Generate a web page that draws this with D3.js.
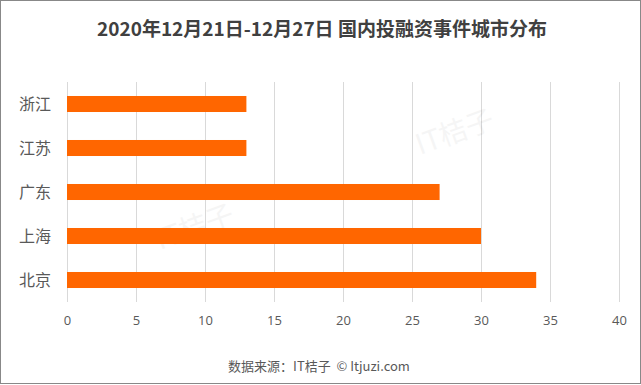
<!DOCTYPE html>
<html>
<head>
<meta charset="utf-8">
<script src="https://cdn.jsdelivr.net/npm/d3@7"></script>
<style>
  body { margin: 0; background: #fff; }
  svg { display: block; font-family: "Microsoft YaHei", "Noto Sans CJK SC", sans-serif; }
</style>
</head>
<body>
<svg id="chart" width="641" height="385"></svg>
<script>
var cities = ["浙江", "江苏", "广东", "上海", "北京"];
var counts = [13, 13, 27, 30, 34];
var xTicks = [0, 5, 10, 15, 20, 25, 30, 35, 40];

var svg = d3.select("#chart");
var width = 641, height = 385;
var margin = {top: 82, right: 22, bottom: 83, left: 67};

// frame
svg.append("rect")
    .attr("x", 0.5).attr("y", 0.5)
    .attr("width", width - 1).attr("height", height - 2)
    .attr("fill", "#fff")
    .attr("stroke", "#888");

var x = d3.scaleLinear()
    .domain([0, 40])
    .range([margin.left, width - margin.right]);

var y = d3.scaleBand()
    .domain(cities)
    .range([margin.top, height - margin.bottom])
    .paddingInner(0.636)
    .paddingOuter(0.318);

// grid
svg.append("g")
    .selectAll("line")
    .data(xTicks)
    .join("line")
    .attr("x1", function(d) { return Math.round(x(d)) + 0.5; })
    .attr("x2", function(d) { return Math.round(x(d)) + 0.5; })
    .attr("y1", margin.top)
    .attr("y2", height - margin.bottom)
    .attr("stroke", "#d9d9d9")
    .attr("stroke-width", 1);

// watermarks
[[420, 155], [160, 250]].forEach(function(p) {
  svg.append("text")
      .attr("x", p[0]).attr("y", p[1])
      .attr("fill", "#000")
      .attr("opacity", 0.035)
      .attr("font-size", 28)
      .attr("transform", "rotate(-20," + p[0] + "," + p[1] + ")")
      .text("IT桔子");
});

// bars
svg.append("g")
    .selectAll("rect")
    .data(cities)
    .join("rect")
    .attr("x", x(0))
    .attr("y", function(d) { return y(d); })
    .attr("width", function(d, i) { return x(counts[i]) - x(0); })
    .attr("height", y.bandwidth())
    .attr("fill", "#ff6600");

// y labels
svg.append("g")
    .selectAll("text")
    .data(cities)
    .join("text")
    .attr("x", 51)
    .attr("y", function(d) { return y(d) + y.bandwidth() / 2; })
    .attr("dy", "0.35em")
    .attr("text-anchor", "end")
    .attr("font-size", 16)
    .attr("fill", "#595959")
    .text(function(d) { return d; });

// x axis labels
var xAxis = d3.axisBottom(x).tickValues(xTicks).tickSize(0).tickPadding(14);
var gx = svg.append("g")
    .attr("transform", "translate(0," + (height - margin.bottom) + ")")
    .call(xAxis);
gx.select(".domain").remove();
gx.selectAll("text")
    .attr("font-size", 13)
    .attr("font-family", "\"Open Sans\", \"Noto Sans\", sans-serif")
    .attr("fill", "#595959");

// title
svg.append("text")
    .attr("x", 322).attr("y", 36)
    .attr("text-anchor", "middle")
    .attr("font-size", 19)
    .attr("font-weight", "bold")
    .attr("fill", "#404040")
    .text("2020年12月21日-12月27日 国内投融资事件城市分布");

// source
svg.append("text")
    .attr("x", 319).attr("y", 371)
    .attr("text-anchor", "middle")
    .attr("font-size", 13)
    .attr("fill", "#595959")
    .attr("xml:space", "preserve")
    .text("数据来源：IT桔子  © Itjuzi.com");
</script>
</body>
</html>
